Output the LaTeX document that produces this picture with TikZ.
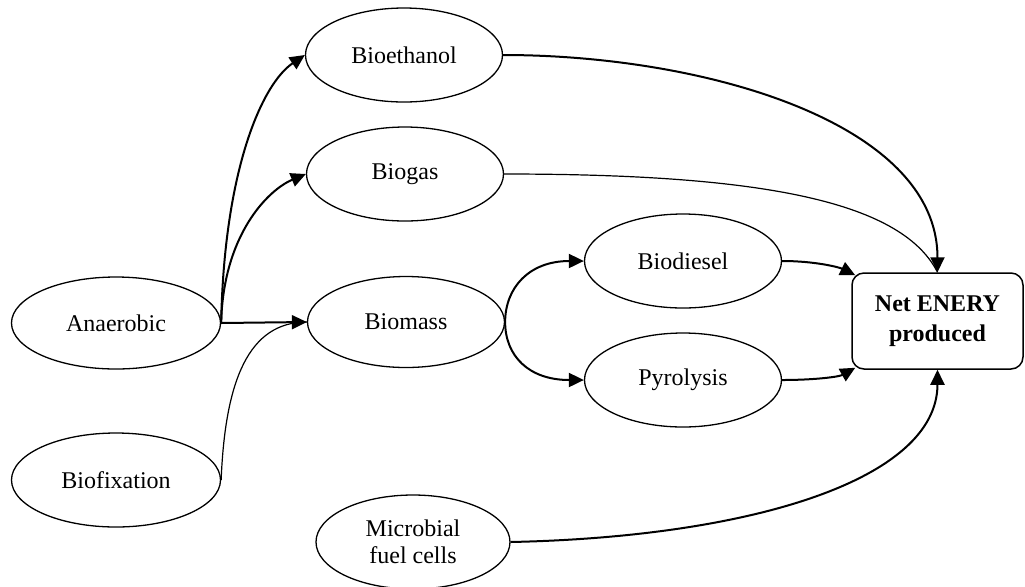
\documentclass[tikz,border=0pt]{standalone}
\usepackage{fontspec}
\setmainfont{Liberation Serif}
\usetikzlibrary{shapes.geometric,arrows.meta}

\tikzset{
  oval/.style={ellipse, draw, line width=0.65pt, inner sep=0pt,
    minimum width=98.5pt, minimum height=47pt, align=center,
    font=\fontsize{12}{13.6}\selectfont},
  resultbox/.style={rectangle, draw, rounded corners=6pt, line width=0.75pt,
    minimum width=85.5pt, minimum height=48pt, align=center,
    font=\fontsize{12}{15}\selectfont\bfseries},
  flow/.style={line width=1pt, -{Triangle[length=7.5pt,width=7pt]}},
  feed/.style={line width=0.6pt},
  thickfeed/.style={line width=1pt}
}

\begin{document}
\begin{tikzpicture}[x=0.5pt, y=-0.5pt]
\useasboundingbox (0,0) rectangle (1025,586);

% sources
\node[oval, minimum width=104.5pt, minimum height=46pt] (anaer) at (116,323) {Anaerobic};
\node[oval, minimum width=104.5pt] (biofix) at (116,480) {Biofixation};

% intermediate products
\node[oval] (bioeth) at (404,55) {Bioethanol};
\node[oval] (biogas) at (405,174) {Biogas};
\node[oval, minimum height=45.5pt] (biomass) at (406,322) {Biomass};
\node[oval] (biodiesel) at (683,261) {Biodiesel};
\node[oval] (pyro) at (683,380) {Pyrolysis};
\node[oval, minimum width=97pt] (micro) at (413,542) {Microbial\\fuel cells};

% result
\node[resultbox] (net) at (937.5,321) {Net ENERY\\produced};

% anaerobic branches
\draw[flow] (anaer.east) .. controls +(3,-153) and +(-43,29) .. (bioeth.west);
\draw[flow] (anaer.east) .. controls +(2,-88) and +(-38,16) .. (biogas.west);
\draw[flow] (anaer.east) -- (biomass.west);
\draw[feed] (biofix.east) .. controls +(4,-100) and +(-58,0) .. (biomass.west);

% biomass conversion
\draw[flow] (biomass.east) .. controls +(0,-34) and +(-55,0) .. (biodiesel.west);
\draw[flow] (biomass.east) .. controls +(0,34) and +(-55,0) .. (pyro.west);

% energy output
\draw[flow] (bioeth.east) .. controls +(200,0) and +(0,-150) .. (net.north);
\draw[feed] (biogas.east) .. controls +(250,0) and +(-37,-73) .. (net.north);
\draw[flow] (biodiesel.east) .. controls +(33,0) and +(-16,-8) .. ([shift={(4,3)}]net.north west);
\draw[flow] (pyro.east) .. controls +(33,0) and +(-16,9) .. ([shift={(4,-2)}]net.south west);
\draw[flow] (micro.east) .. controls +(240,-5) and +(0,110) .. (net.south);
\end{tikzpicture}
\end{document}
